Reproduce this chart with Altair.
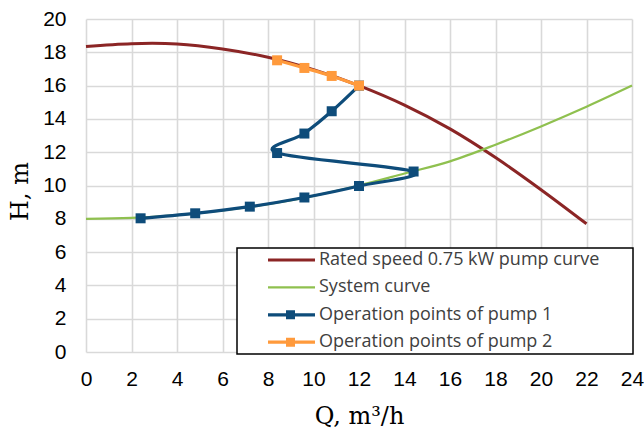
import altair as alt
import pandas as pd

# ---- data ----
pump_q = [0, 2, 4, 6, 8, 10, 12, 14, 16, 18, 20, 22]
pump_h = [18.35, 18.52, 18.5, 18.2, 17.7, 16.95, 16.0, 14.83, 13.4, 11.68, 9.75, 7.7]

sys_q = [0, 2, 4, 6, 8, 10, 12, 14, 16, 18, 20, 22, 24]
sys_h = [8.0, 8.05, 8.22, 8.5, 8.88, 9.38, 10.0, 10.72, 11.45, 12.45, 13.55, 14.73, 16.0]

p1_q = [2.4, 4.8, 7.2, 9.6, 12.0, 14.4, 8.4, 9.6, 10.8, 12.0]
p1_h = [8.03, 8.33, 8.73, 9.28, 9.97, 10.84, 11.95, 13.12, 14.46, 16.0]

p2_q = [8.4, 9.6, 10.8, 12.0]
p2_h = [17.52, 17.06, 16.58, 16.0]

series_names = [
    "Rated speed 0.75 kW pump curve",
    "System curve",
    "Operation points of pump 1",
    "Operation points of pump 2",
]
series_colors = ["#8B2525", "#8FC04F", "#0E4C7A", "#FF9A3C"]

x_ticks = [0, 2, 4, 6, 8, 10, 12, 14, 16, 18, 20, 22, 24]
y_ticks = [0, 2, 4, 6, 8, 10, 12, 14, 16, 18, 20]

# legend symbols: a line, or a line with a square marker
legend_paths = [
    "M1.9,-0.14H6.6V0.14H1.9Z M38.2,0",
    "M1.9,-0.11H6.6V0.11H1.9Z M38.2,0",
    "M1.9,-0.16H6.6V0.16H1.9Z M3.7,-0.45H4.6V0.45H3.7Z M38.2,0",
    "M1.9,-0.16H6.6V0.16H1.9Z M3.7,-0.45H4.6V0.45H3.7Z M38.2,0",
]


def frame(q, h, name):
    return pd.DataFrame({"Q": q, "H": h, "order": list(range(len(q))), "series": name})


pump_df = frame(pump_q, pump_h, series_names[0])
sys_df = frame(sys_q, sys_h, series_names[1])
p1_df = frame(p1_q, p1_h, series_names[2])
p2_df = frame(p2_q, p2_h, series_names[3])
legend_df = pd.DataFrame({"series": series_names, "Q": [0] * 4, "H": [0] * 4})

x = alt.X(
    "Q:Q",
    scale=alt.Scale(domain=[0, 24], nice=False),
    axis=alt.Axis(
        values=x_ticks,
        title="Q, m³/h",
        titleX=273,
        titleY=71,
        titleBaseline="alphabetic",
        labelPadding=16,
        labelFlush=False,
    ),
)
y = alt.Y(
    "H:Q",
    scale=alt.Scale(domain=[0, 20], nice=False),
    axis=alt.Axis(
        values=y_ticks,
        title="H, m",
        titleX=-66,
        titleY=172,
        titleAngle=-90,
        titleAlign="center",
        titleBaseline="middle",
        labelPadding=20,
        labelFlush=False,
    ),
)

pump_line = alt.Chart(pump_df).mark_line(
    color=series_colors[0], strokeWidth=3, interpolate="cardinal"
).encode(x=x, y=y, order="order:Q")

sys_line = alt.Chart(sys_df).mark_line(
    color=series_colors[1], strokeWidth=2.2, interpolate="cardinal"
).encode(x=x, y=y, order="order:Q")

p1_line = alt.Chart(p1_df).mark_line(
    color=series_colors[2], strokeWidth=3.2, interpolate="cardinal"
).encode(x=x, y=y, order="order:Q")
p1_pts = alt.Chart(p1_df).mark_point(
    shape="square", filled=True, size=100, opacity=1, color=series_colors[2]
).encode(x=x, y=y)

p2_line = alt.Chart(p2_df).mark_line(
    color=series_colors[3], strokeWidth=3.2, interpolate="cardinal"
).encode(x=x, y=y, order="order:Q")
p2_pts = alt.Chart(p2_df).mark_point(
    shape="square", filled=True, size=100, opacity=1, color=series_colors[3]
).encode(x=x, y=y)

leg = alt.Legend(
    title=None,
    orient="none",
    legendX=151,
    legendY=229,
    direction="vertical",
    strokeColor="black",
    fillColor="white",
    padding=2,
    cornerRadius=0,
    symbolSize=400,
    symbolStrokeWidth=0,
    symbolOpacity=1,
    rowPadding=8.4,
    labelOffset=60,
    labelFont="Open Sans",
    labelFontSize=18,
    labelColor="#404040",
    labelLimit=500,
)

legend_layer = alt.Chart(legend_df).transform_filter("false").mark_point(
    filled=True, opacity=1, size=400
).encode(
    x=x,
    y=y,
    color=alt.Color("series:N", scale=alt.Scale(domain=series_names, range=series_colors), legend=leg),
    shape=alt.Shape("series:N", scale=alt.Scale(domain=series_names, range=legend_paths), legend=leg),
)

chart = (
    alt.layer(pump_line, sys_line, p1_line, p1_pts, p2_line, p2_pts, legend_layer)
    .properties(
        width=546,
        height=333,
        padding={"left": 86, "top": 19, "right": 12, "bottom": 80},
        autosize=alt.AutoSizeParams(type="none"),
        background="white",
    )
    .configure_view(strokeWidth=0)
    .configure_legend(strokeWidth=1.5)
    .configure_axis(
        grid=True,
        gridColor="#d9d9d9",
        gridWidth=1.6,
        domain=False,
        ticks=False,
        labelFont="Liberation Sans",
        labelFontSize=21,
        labelColor="#000000",
        titleFont="DejaVu Serif",
        titleFontSize=24,
        titleFontWeight="normal",
        titleColor="#000000",
    )
)

chart.save("out.html", embed_options={"renderer": "svg", "actions": False})
